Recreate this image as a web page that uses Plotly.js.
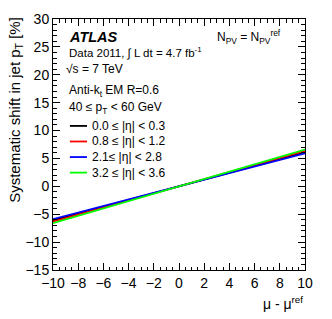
<!DOCTYPE html>
<html>
<head>
<meta charset="utf-8">
<script src="https://cdn.plot.ly/plotly-3.0.1.min.js"></script>
<style>html,body{margin:0;padding:0;background:#fff;}#plot{width:332px;height:319px;}</style>
</head>
<body>
<div id="plot"></div>
<script>
// Data
const muShift = [-10, 10];
const seriesNames = ["0.0 \u2264 |\u03b7| < 0.3", "0.8 \u2264 |\u03b7| < 1.2", "2.1\u2264 |\u03b7| < 2.8", "3.2 \u2264 |\u03b7| < 3.6"];
const shiftEta00_03 = [-6.1, 6.1];
const shiftEta08_12 = [-6.35, 6.35];
const shiftEta21_28 = [-5.9, 5.9];
const shiftEta32_36 = [-6.6, 6.6];
const seriesColors = ["#000000", "#ff0000", "#0000ff", "#00ff00"];

const FONT = "Liberation Sans, Arial, Helvetica, sans-serif";
const ys = [shiftEta00_03, shiftEta08_12, shiftEta21_28, shiftEta32_36];
const traces = ys.map((y, i) => ({
  x: muShift, y: y, type: "scatter", mode: "lines", name: seriesNames[i],
  line: {color: seriesColors[i], width: 1.8}, showlegend: false
}));

const axisCommon = {
  showgrid: false, zeroline: false, showline: true, linecolor: "#000", linewidth: 1,
  mirror: "ticks", ticks: "inside", ticklen: 7, tickcolor: "#000", tickwidth: 1,
  tickfont: {family: FONT, size: 14, color: "#000"}
};

// Legend drawn as key lines + labels inside the frame
const legendTop = 0.574, legendStep = 0.062;
const legendShapes = seriesNames.map((n, i) => ({
  type: "line", xref: "paper", yref: "paper",
  x0: 0.067, x1: 0.135, y0: legendTop - i * legendStep, y1: legendTop - i * legendStep,
  line: {color: seriesColors[i], width: 1.8}
}));
const legendLabels = seriesNames.map((n, i) => ({
  text: n, xref: "paper", yref: "paper", x: 0.148, y: legendTop - i * legendStep,
  xanchor: "left", yanchor: "middle", showarrow: false, font: {family: FONT, size: 12}
}));

const layout = {
  width: 332, height: 319,
  margin: {l: 53, r: 27, t: 19, b: 49},
  paper_bgcolor: "#fff", plot_bgcolor: "#fff",
  font: {family: FONT, color: "#000"},
  showlegend: false,
  xaxis: Object.assign({}, axisCommon, {range: [-10, 10], dtick: 2, tick0: -10,
    minor: {dtick: 0.5, ticklen: 3.5, ticks: "inside", tickcolor: "#000"}}),
  yaxis: Object.assign({}, axisCommon, {range: [-15, 30], dtick: 5, tick0: -15,
    minor: {dtick: 1, ticklen: 4, ticks: "inside", tickcolor: "#000"}}),
  shapes: legendShapes,
  annotations: [
    {text: "<b><i>ATLAS</i></b>", xref: "paper", yref: "paper", x: 0.055, y: 0.929, xanchor: "left", yanchor: "middle", showarrow: false, font: {family: FONT, size: 14.5}},
    {text: "Data 2011, \u222b L dt = 4.7 fb<sup>-1</sup>", xref: "paper", yref: "paper", x: 0.055, y: 0.865, xanchor: "left", yanchor: "middle", showarrow: false, font: {family: FONT, size: 11.5}},
    {text: "\u221as = 7 TeV", xref: "paper", yref: "paper", x: 0.045, y: 0.80, xanchor: "left", yanchor: "middle", showarrow: false, font: {family: FONT, size: 12}},
    {text: "Anti-k<sub>t</sub> EM R=0.6", xref: "paper", yref: "paper", x: 0.055, y: 0.714, xanchor: "left", yanchor: "middle", showarrow: false, font: {family: FONT, size: 12}},
    {text: "40 \u2264 p<sub>T</sub> < 60 GeV", xref: "paper", yref: "paper", x: 0.055, y: 0.647, xanchor: "left", yanchor: "middle", showarrow: false, font: {family: FONT, size: 12}},
    {text: "N<sub>PV</sub> = N<sub>PV</sub><sup>ref</sup>", xref: "paper", yref: "paper", x: 0.913, y: 0.929, xanchor: "right", yanchor: "middle", showarrow: false, font: {family: FONT, size: 12}},
    {text: "\u03bc - \u03bc<sup>ref</sup>", xref: "paper", yref: "paper", x: 1.0, y: -0.13, xanchor: "right", yanchor: "middle", showarrow: false, font: {family: FONT, size: 14}},
    {text: "Systematic shift in jet p<sub>T</sub> [%]", xref: "paper", yref: "paper", x: -0.152, y: 0.637, xanchor: "center", yanchor: "middle", textangle: -90, showarrow: false, font: {family: FONT, size: 15}}
  ].concat(legendLabels)
};

Plotly.newPlot("plot", traces, layout, {displayModeBar: false, staticPlot: true});
</script>
</body>
</html>
